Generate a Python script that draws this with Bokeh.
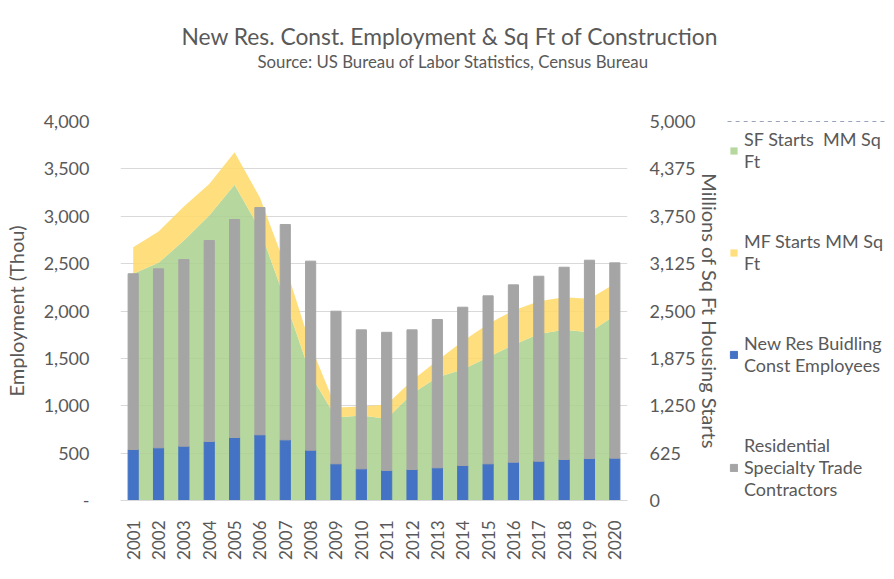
import math
from bokeh.plotting import figure
from bokeh.layouts import row
from bokeh.models import (ColumnDataSource, Range1d, LinearAxis, FixedTicker,
                          NumeralTickFormatter, Legend, LegendItem, Title, FactorRange)
from bokeh.embed import file_html
from bokeh.resources import INLINE

years = [str(y) for y in range(2001, 2021)]
new_res_employees = [538, 556, 573, 623, 665, 693, 640, 531, 387, 334,
                     317, 327, 345, 369, 387, 404, 415, 433, 443, 447]
specialty_trade = [1855, 1889, 1970, 2121, 2301, 2399, 2273, 1995, 1611, 1467,
                   1458, 1474, 1565, 1671, 1773, 1872, 1952, 2029, 2093, 2061]
sf_starts = [2990, 3135, 3429, 3759, 4164, 3575, 2643, 1655, 1095, 1121,
             1077, 1407, 1627, 1728, 1890, 2053, 2198, 2251, 2220, 2440]
mf_starts = [351, 413, 449, 418, 430, 422, 457, 389, 132, 119,
             189, 176, 220, 373, 440, 453, 431, 431, 440, 418]
left_ticks = [0, 500, 1000, 1500, 2000, 2500, 3000, 3500, 4000]
right_ticks = [0, 625, 1250, 1875, 2500, 3125, 3750, 4375, 5000]
legend_labels = ["SF Starts  MM Sq\nFt", "MF Starts MM Sq\nFt",
                 "New Res Buidling\nConst Employees",
                 "Residential\nSpecialty Trade\nContractors"]

TEXT = "#595959"
FONT = "Lato"
C_SF, C_MF, C_NEW, C_SPEC = "#A9D18E", "#FFD966", "#4472C4", "#A5A5A5"
AREA_ALPHA = 0.85

src = ColumnDataSource(dict(
    year=years,
    new_res=new_res_employees,
    specialty=specialty_trade,
    base=[0] * len(years),
    sf=sf_starts,
    total=[s + m for s, m in zip(sf_starts, mf_starts)],
))


def add_series(fig, y_range_name):
    """Draw the two stacked areas and the stacked bars on fig."""
    a1 = fig.varea(x="year", y1="base", y2="sf", source=src, y_range_name=y_range_name,
                   fill_color=C_SF, fill_alpha=AREA_ALPHA)
    a2 = fig.varea(x="year", y1="sf", y2="total", source=src, y_range_name=y_range_name,
                   fill_color=C_MF, fill_alpha=AREA_ALPHA)
    b = fig.vbar_stack(["new_res", "specialty"], x="year", width=0.4,
                       color=[C_NEW, C_SPEC], source=src)
    return [a1, a2, b[0], b[1]]


p = figure(x_range=FactorRange(*years), y_range=Range1d(0, 4000),
           frame_width=507, frame_height=379,
           min_border_left=0, min_border_right=0,
           min_border_top=0, min_border_bottom=0,
           output_backend="svg", toolbar_location=None)
p.extra_y_ranges = {"right": Range1d(0, 5000)}
p.outline_line_color = None
p.background_fill_color = "white"
p.border_fill_color = "white"
add_series(p, "right")

# grid
p.xgrid.grid_line_color = None
p.ygrid.grid_line_color = "#D9D9D9"
p.ygrid.ticker = FixedTicker(ticks=left_ticks)

# x axis
xa = p.xaxis[0]
xa.axis_line_color = "#D9D9D9"
xa.major_tick_line_color = None
xa.minor_tick_line_color = None
xa.major_label_orientation = math.pi / 2
xa.major_label_standoff = 14
xa.major_label_text_font = FONT
xa.major_label_text_font_size = "17px"
xa.major_label_text_color = TEXT

# left axis
ya = p.yaxis[0]
ya.ticker = FixedTicker(ticks=left_ticks)
ya.formatter = NumeralTickFormatter(format="0,0")
ya.major_label_overrides = {0: "-"}
ya.axis_line_color = None
ya.major_tick_line_color = None
ya.minor_tick_line_color = None
ya.major_label_standoff = 25
ya.major_label_text_font = FONT
ya.major_label_text_font_size = "18px"
ya.major_label_text_color = TEXT
ya.axis_label = "Employment (Thou)"
ya.axis_label_text_font = FONT
ya.axis_label_text_font_size = "20px"
ya.axis_label_text_font_style = "normal"
ya.axis_label_text_color = TEXT
ya.axis_label_standoff = 13

# right axis
ra = LinearAxis(y_range_name="right", ticker=FixedTicker(ticks=right_ticks),
                formatter=NumeralTickFormatter(format="0,0"))
ra.axis_line_color = None
ra.major_tick_line_color = None
ra.minor_tick_line_color = None
ra.major_label_standoff = 16
ra.major_label_text_font = FONT
ra.major_label_text_font_size = "18px"
ra.major_label_text_color = TEXT
ra.axis_label = "Millions of Sq Ft Housing Starts"
ra.axis_label_text_font = FONT
ra.axis_label_text_font_size = "20px"
ra.axis_label_text_font_style = "normal"
ra.axis_label_text_color = TEXT
ra.axis_label_standoff = 0
p.add_layout(ra, "right")

# titles (first added sits closest to the frame)
p.add_layout(Title(text=" ", text_font_size="30px"), "above")
p.add_layout(Title(text="Source: US Bureau of Labor Statistics, Census Bureau",
                   align="left", offset=137, text_font=FONT, text_font_size="16.8px",
                   text_font_style="normal", text_color=TEXT), "above")
p.add_layout(Title(text="New Res. Const. Employment & Sq Ft of Construction",
                   align="left", offset=61, standoff=-12, text_font=FONT,
                   text_font_size="22.8px", text_font_style="normal",
                   text_color=TEXT), "above")
p.add_layout(Title(text=" ", text_font_size="11px", standoff=11), "above")

# legend panel: same series drawn on a canvas whose range hides them,
# so only the legend is visible there
lg = figure(x_range=FactorRange(*years), y_range=Range1d(-2, -1),
            width=161, height=563, x_axis_type=None, y_axis_type=None,
            min_border_left=0, min_border_right=0, min_border_top=0,
            min_border_bottom=0, output_backend="svg", toolbar_location=None)
lg.extra_y_ranges = {"right": Range1d(-2, -1)}
lg.outline_line_color = None
lg.xgrid.grid_line_color = None
lg.ygrid.grid_line_color = None
lg.background_fill_color = "white"
lg.border_fill_color = "white"
lg_renderers = add_series(lg, "right")

legend = Legend(items=[LegendItem(label=lab, renderers=[r]) for lab, r in
                       zip(legend_labels, lg_renderers)],
                location=(4, 1))
legend.border_line_color = None
legend.background_fill_alpha = 0
legend.margin = 0
legend.padding = 0
legend.spacing = 58
legend.glyph_width = 9
legend.glyph_height = 9
legend.label_standoff = 6
legend.label_text_font = FONT
legend.label_text_font_size = "18px"
legend.label_text_color = TEXT
legend.label_text_line_height = 1.25
lg.add_layout(legend, "center")

layout = row(p, lg)
open("out.html", "w").write(file_html(layout, INLINE))
